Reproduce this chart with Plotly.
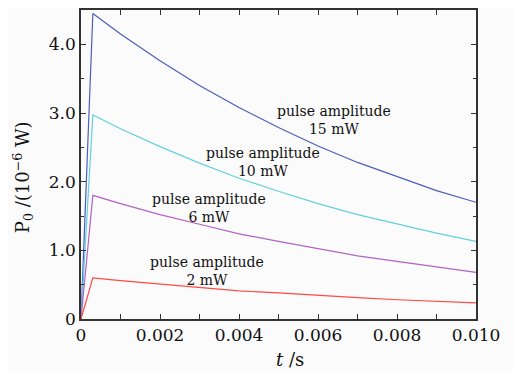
import plotly.graph_objects as go

t = [0, 0.0003, 0.001, 0.002, 0.003, 0.004, 0.005, 0.006, 0.007, 0.008, 0.009, 0.010]
p15 = [0, 4.45, 4.15, 3.76, 3.40, 3.08, 2.79, 2.52, 2.28, 2.07, 1.87, 1.70]
p10 = [0, 2.97, 2.77, 2.51, 2.27, 2.05, 1.86, 1.68, 1.52, 1.38, 1.25, 1.13]
p6 = [0, 1.80, 1.68, 1.52, 1.38, 1.24, 1.13, 1.02, 0.92, 0.84, 0.76, 0.68]
p2 = [0, 0.60, 0.56, 0.51, 0.46, 0.41, 0.38, 0.34, 0.31, 0.28, 0.26, 0.236]

series = [
    ("15 mW", p15, "#4b5fbd"),
    ("10 mW", p10, "#63d0df"),
    ("6 mW", p6, "#b262c2"),
    ("2 mW", p2, "#ff4a45"),
]

x_tickvals = [0, 0.002, 0.004, 0.006, 0.008, 0.010]
x_ticktext = ["0", "0.002", "0.004", "0.006", "0.008", "0.010"]
y_tickvals = [0, 1, 2, 3, 4]
y_ticktext = ["0", "1.0", "2.0", "3.0", "4.0"]

labels = [
    ("15 mW", 0.00641, 2.90),
    ("10 mW", 0.00460, 2.285),
    ("6 mW", 0.00323, 1.62),
    ("2 mW", 0.00320, 0.70),
]

FONT = "DejaVu Serif"
fig = go.Figure()
for name, vals, col in series:
    fig.add_trace(go.Scatter(x=t, y=vals, mode="lines", name=name,
                             line=dict(color=col, width=1.2), showlegend=False))

anns = []
for name, x, y in labels:
    anns.append(dict(x=x, y=y, xref="x", yref="y", text="pulse amplitude<br>" + name,
                     showarrow=False, align="center",
                     xanchor="center", yanchor="middle", font=dict(family=FONT, size=14, color="#111")))
anns.append(dict(x=-0.147, y=2.065, xref="paper", yref="y", textangle=-90,
                 text="P<sub>0</sub> /(10<sup>−6</sup> W)", showarrow=False,
                 xanchor="center", yanchor="middle", font=dict(family=FONT, size=18, color="#111")))
anns.append(dict(x=0.0053, y=-0.132, xref="x", yref="paper",
                 text="<i>t</i> /s", showarrow=False,
                 xanchor="center", yanchor="middle", font=dict(family=FONT, size=18, color="#111")))

# the page body adds an 8 px margin, so the figure is sized to sit inside the window
fig.update_layout(
    width=513, height=365, autosize=False,
    margin=dict(l=73, r=45, t=0, b=54),
    paper_bgcolor="#fbfbfb", plot_bgcolor="#fbfbfb",
    annotations=anns,
    font=dict(family=FONT, size=17, color="#111"),
)
fig.update_xaxes(range=[0, 0.010], tickvals=x_tickvals, ticktext=x_ticktext,
                 ticks="inside", ticklen=5, tickwidth=1, tickcolor="#333",
                 minor=dict(tick0=0, dtick=0.001, ticks="inside", ticklen=5, tickcolor="#333", showgrid=False),
                 showline=True, linecolor="#333", linewidth=1.5, mirror="ticks",
                 showgrid=False, zeroline=False, tickfont=dict(family=FONT, size=17))
fig.update_yaxes(range=[0, 4.5], tickvals=y_tickvals, ticktext=y_ticktext,
                 ticks="inside", ticklen=5, tickwidth=1, tickcolor="#333",
                 minor=dict(tick0=0, dtick=0.5, ticks="inside", ticklen=3, tickcolor="#333", showgrid=False),
                 showline=True, linecolor="#333", linewidth=1.5, mirror="ticks",
                 showgrid=False, zeroline=False, tickfont=dict(family=FONT, size=17))

fig.write_html("out.html")
